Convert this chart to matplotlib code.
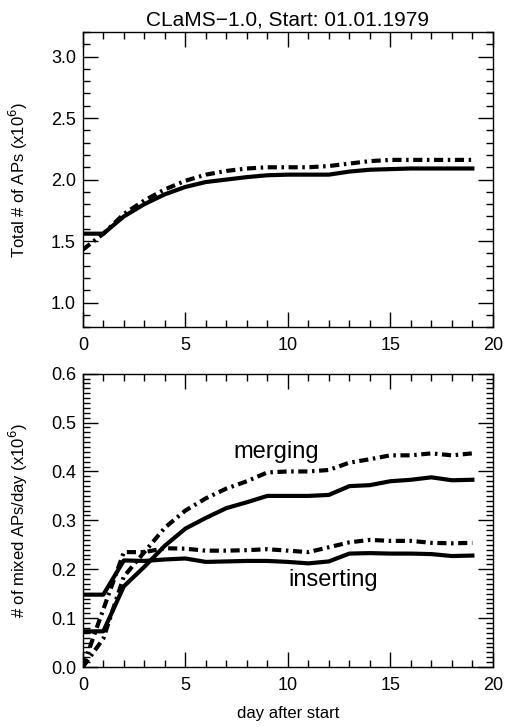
import matplotlib
matplotlib.use('Agg')
import matplotlib.pyplot as plt
from matplotlib.ticker import MultipleLocator

plt.rcParams['font.family'] = ['Liberation Sans', 'DejaVu Sans']

days = list(range(20))

# total number of air parcels (x10^6)
total_solid = [1.56, 1.56, 1.70, 1.80, 1.88, 1.94, 1.98, 2.00, 2.02, 2.035,
               2.04, 2.04, 2.04, 2.065, 2.08, 2.085, 2.09, 2.09, 2.09, 2.09]
total_dashdot = [1.43, 1.56, 1.72, 1.83, 1.92, 1.99, 2.04, 2.07, 2.09, 2.10,
                 2.10, 2.10, 2.11, 2.13, 2.15, 2.16, 2.16, 2.16, 2.16, 2.16]

# mixed air parcels per day (x10^6)
merge_solid = [0.073, 0.073, 0.165, 0.205, 0.248, 0.283, 0.305, 0.325, 0.337, 0.350,
               0.350, 0.350, 0.352, 0.370, 0.372, 0.380, 0.383, 0.388, 0.382, 0.383]
merge_dashdot = [0.0, 0.058, 0.185, 0.235, 0.285, 0.320, 0.345, 0.365, 0.380, 0.398,
                 0.400, 0.400, 0.403, 0.418, 0.425, 0.433, 0.433, 0.437, 0.433, 0.437]
insert_solid = [0.148, 0.148, 0.218, 0.217, 0.220, 0.222, 0.215, 0.216, 0.217, 0.217,
                0.215, 0.212, 0.216, 0.232, 0.233, 0.232, 0.232, 0.231, 0.227, 0.228]
insert_dashdot = [0.0, 0.118, 0.235, 0.235, 0.243, 0.242, 0.238, 0.238, 0.239, 0.241,
                  0.238, 0.235, 0.245, 0.255, 0.260, 0.258, 0.258, 0.254, 0.253, 0.254]

dd = (0, (2.2, 1.1, 0.6, 1.1))
lw = 3.0

fig = plt.figure(figsize=(5.05, 7.27), dpi=100)
ax1 = fig.add_axes([0.164, 0.550, 0.812, 0.406])
ax2 = fig.add_axes([0.164, 0.0825, 0.812, 0.4035])


def style(ax):
    ax.tick_params(which='both', direction='in', top=True, right=True,
                   labelsize=13, width=1.0, color='black')
    ax.tick_params(which='major', length=11, pad=5)
    ax.tick_params(axis='x', which='major', pad=7)
    ax.tick_params(which='minor', length=5)
    for s in ax.spines.values():
        s.set_linewidth(1.0)
    ax.set_xlim(0, 20)
    ax.xaxis.set_major_locator(MultipleLocator(5))
    ax.xaxis.set_minor_locator(MultipleLocator(1))


ax1.plot(days, total_solid, color='black', lw=lw)
ax1.plot(days, total_dashdot, color='black', lw=lw, linestyle=dd)
style(ax1)
ax1.set_ylim(0.8, 3.2)
ax1.set_yticks([1.0, 1.5, 2.0, 2.5, 3.0])
ax1.yaxis.set_minor_locator(MultipleLocator(0.1))
ax1.set_ylabel('Total # of APs (x10$^6$)', fontsize=12, labelpad=15)
ax1.set_title('CLaMS\u22121.0, Start: 01.01.1979', fontsize=15, pad=5)

ax2.plot(days, merge_solid, color='black', lw=lw)
ax2.plot(days, merge_dashdot, color='black', lw=lw, linestyle=dd)
ax2.plot(days, insert_solid, color='black', lw=lw)
ax2.plot(days, insert_dashdot, color='black', lw=lw, linestyle=dd)
style(ax2)
ax2.set_ylim(0.0, 0.6)
ax2.yaxis.set_major_locator(MultipleLocator(0.1))
ax2.yaxis.set_minor_locator(MultipleLocator(0.01))
ax2.set_ylabel('# of mixed APs/day (x10$^6$)', fontsize=12, labelpad=15)
ax2.set_xlabel('day after start', fontsize=12, labelpad=9)
ax2.text(9.45, 0.439, 'merging', fontsize=17, ha='center', va='center')
ax2.text(12.2, 0.177, 'inserting', fontsize=17, ha='center', va='center')

fig.savefig('out.png', dpi=100)
